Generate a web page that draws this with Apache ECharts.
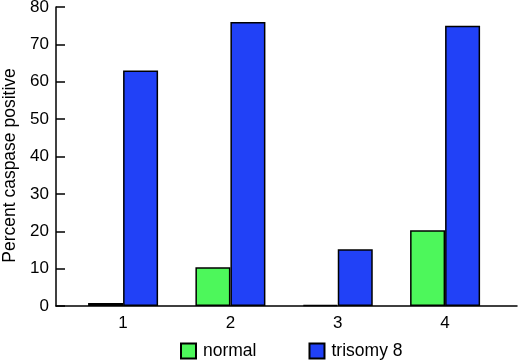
<!DOCTYPE html>
<html>
<head>
<meta charset="utf-8">
<script src="https://cdn.jsdelivr.net/npm/echarts@6/dist/echarts.min.js"></script>
<style>
  html, body { margin: 0; padding: 0; background: #fff; }
  #chart { width: 520px; height: 361px; }
</style>
</head>
<body>
<div id="chart"></div>
<script>
// samples 1..4
const categories = [1, 2, 3, 4];
const normalValues = [0.8, 10.4, 0.3, 20.3];
const trisomyValues = [63, 76, 15.2, 75];
const yTicks = [0, 10, 20, 30, 40, 50, 60, 70, 80];

const chart = echarts.init(document.getElementById('chart'));
const font = '"Liberation Sans", Arial, Helvetica, sans-serif';

const option = {
    animation: false,
    backgroundColor: '#fff',
    textStyle: { fontFamily: font, color: '#000' },
    grid: {
        left: 56,
        right: 3,
        top: 7,
        bottom: 55,
        containLabel: false,
        outerBoundsMode: 'none'
    },
    legend: {
        left: 180,
        top: 342,
        padding: 0,
        icon: 'rect',
        itemWidth: 15,
        itemHeight: 15,
        itemGap: 52,
        textStyle: { fontFamily: font, fontSize: 17.5, color: '#000', padding: [0, 0, 0, 2] },
        data: ['normal', 'trisomy 8']
    },
    xAxis: {
        type: 'value',
        min: 0.375,
        max: 4.67,
        splitLine: { show: false },
        axisTick: { show: false },
        axisLine: { show: true, lineStyle: { color: '#000', width: 1.5 } },
        axisLabel: {
            customValues: categories,
            margin: 9,
            fontFamily: font,
            fontSize: 17,
            color: '#000'
        }
    },
    yAxis: {
        type: 'value',
        min: 0,
        max: 80,
        interval: 10,
        name: 'Percent caspase positive',
        nameLocation: 'middle',
        nameGap: 34,
        nameTextStyle: { fontFamily: font, fontSize: 17.5, color: '#000', padding: [0, 18, 0, 0] },
        splitLine: { show: false },
        axisLine: { show: true, lineStyle: { color: '#000', width: 1.5 } },
        axisTick: { show: true, inside: true, length: 9, lineStyle: { color: '#000', width: 1.5 } },
        axisLabel: {
            margin: 7,
            fontFamily: font,
            fontSize: 17,
            color: '#000',
            formatter: function (v) { return yTicks.indexOf(v) >= 0 ? String(v) : ''; }
        }
    },
    series: [{
        name: 'normal',
        type: 'bar',
        barWidth: 35,
        barGap: '0%',
        itemStyle: { color: '#4df75b', borderColor: '#000', borderWidth: 1.5 },
        data: categories.map(function (c, i) { return [c, normalValues[i]]; })
    }, {
        name: 'trisomy 8',
        type: 'bar',
        barWidth: 35,
        barGap: '0%',
        itemStyle: { color: '#2141f7', borderColor: '#000', borderWidth: 1.5 },
        data: categories.map(function (c, i) { return [c, trisomyValues[i]]; })
    }]
};
chart.setOption(option);
</script>
</body>
</html>
